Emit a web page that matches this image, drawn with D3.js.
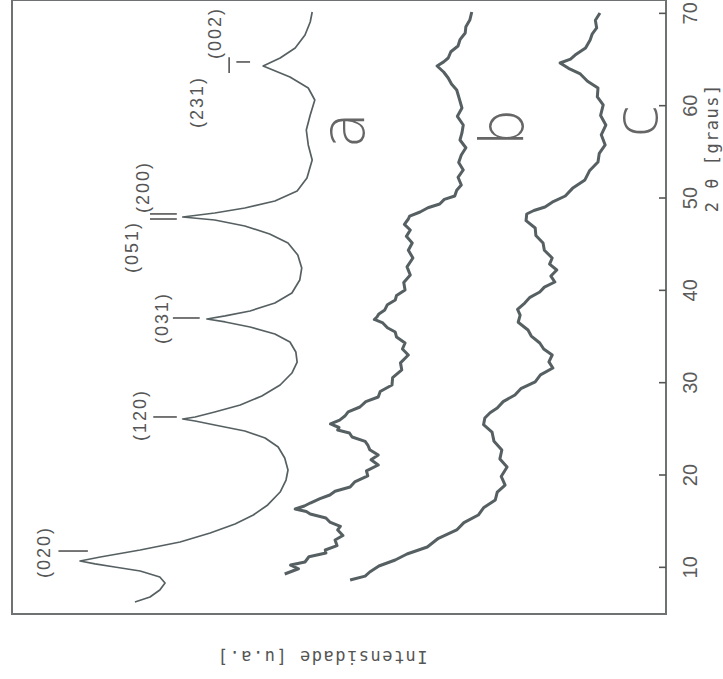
<!DOCTYPE html>
<html lang="pt">
<head>
<meta charset="UTF-8">
<title>DRX</title>
<script src="https://d3js.org/d3.v7.min.js"></script>
<style>
  body { margin: 0; background: #fff; }
  .frame { fill: none; stroke: #6e7273; stroke-width: 2; }
  .curve { fill: none; stroke: #566062; stroke-linejoin: round; }
  .tick-lbl { font-family: "Liberation Sans", Arial, sans-serif; font-size: 20px; fill: #5a5a5a; }
  .peak-lbl { font-family: "Liberation Sans", Arial, sans-serif; font-size: 18px; fill: #555; letter-spacing: 2px; }
  .marker { stroke: #555; stroke-width: 1.6; }
  .axis-title { font-family: "DejaVu Sans Mono", monospace; font-size: 17px; fill: #555; letter-spacing: 1.5px; }
  .sample { font-family: "DejaVu Sans", sans-serif; font-weight: 300; font-size: 60px; fill: #666; }
</style>
</head>
<body>
<div id="chart"></div>
<script>
// 2theta (graus) / intensidade (u.a.)
const curveA = [
  [6.30, 81.2], [6.84, 78.9], [7.60, 77.4], [8.36, 76.6], [9.01, 77.4], [9.66, 80.4],
  [10.09, 84.3], [10.42, 87.3], [10.74, 89.6], [11.17, 86.5], [11.93, 80.4], [12.80, 74.3],
  [13.77, 69.7], [14.75, 65.9], [15.72, 63.1], [16.81, 60.9], [18.21, 59.0], [19.51, 58.1],
  [20.60, 57.8], [21.90, 58.3], [23.09, 59.3], [24.06, 61.3], [24.82, 64.4], [25.47, 69.0],
  [25.90, 72.0], [26.12, 73.9], [26.34, 72.0], [26.88, 69.0], [27.64, 65.1], [28.61, 61.8],
  [29.80, 59.0], [31.10, 57.2], [32.29, 56.4], [33.38, 56.6], [34.46, 57.5], [35.33, 59.8],
  [36.08, 63.6], [36.63, 67.4], [36.95, 70.2], [37.28, 67.4], [37.82, 63.6], [38.68, 59.8],
  [39.77, 57.2], [41.17, 56.0], [42.47, 55.7], [43.88, 56.3], [45.18, 57.8], [46.16, 60.6],
  [47.02, 64.4], [47.67, 69.0], [48.00, 73.9], [48.43, 69.0], [48.97, 64.4], [49.73, 59.8],
  [50.81, 56.4], [52.22, 54.9], [54.17, 54.1], [55.80, 54.7], [57.42, 55.0], [59.05, 54.4],
  [60.67, 53.7], [61.97, 54.7], [63.16, 57.5], [64.35, 61.6], [65.22, 59.0], [66.30, 56.7],
  [67.71, 55.2], [69.12, 54.4], [70.20, 54.1]
];
const curveB = [
  [9.33, 58.3], [9.9, 56.2], [10.3, 57.4], [10.63, 55.2], [11.2, 54.6], [11.6, 52.0], [11.93, 52.1],
  [12.4, 50.3], [13.01, 50.6], [13.5, 49.4], [14.10, 50.2], [14.5, 49.8], [14.96, 51.4], [15.4, 52.0],
  [15.83, 54.4], [16.1, 55.0], [16.37, 56.7], [16.7, 55.3], [17.02, 54.4], [17.5, 52.9], [17.89, 51.4],
  [18.3, 50.6], [18.75, 48.3], [19.3, 47.6], [19.95, 45.6], [20.5, 45.8], [21.14, 44.0], [21.7, 45.1],
  [22.22, 44.0], [22.8, 45.3], [23.30, 45.6], [23.7, 46.0], [24.17, 48.0], [24.6, 48.4], [24.93, 50.2],
  [25.2, 50.0], [25.58, 51.3], [26.0, 49.9], [26.44, 49.1], [26.9, 48.6], [27.42, 46.8], [28.0, 45.9],
  [28.50, 44.0], [29.1, 43.7], [29.80, 41.9], [30.6, 41.8], [31.43, 40.4], [32.2, 40.6], [33.05, 39.4],
  [33.7, 40.3], [34.35, 39.9], [35.0, 41.2], [35.54, 41.4], [36.0, 42.6], [36.52, 43.3], [36.9, 44.6],
  [37.17, 44.2], [37.5, 43.9], [37.93, 43.0], [38.5, 42.6], [39.01, 41.4], [39.5, 41.2], [40.09, 39.9],
  [40.9, 40.1], [41.72, 39.1], [42.6, 39.6], [43.56, 38.7], [44.4, 39.4], [45.18, 38.8], [45.9, 39.7],
  [46.59, 39.1], [47.2, 40.0], [47.78, 39.4], [48.1, 39.2], [48.54, 37.6], [49.0, 36.4], [49.41, 34.6],
  [49.9, 33.9], [50.27, 32.3], [50.9, 32.0], [51.46, 31.3], [52.3, 31.8], [53.09, 31.0], [53.9, 31.7],
  [54.71, 31.3], [55.5, 30.6], [56.34, 31.5], [57.1, 31.2], [57.96, 31.0], [58.9, 31.9], [59.80, 31.2],
  [60.8, 31.6], [61.75, 32.0], [62.4, 32.8], [63.05, 33.3], [63.7, 34.0], [64.35, 35.0], [64.8, 34.0],
  [65.22, 33.3], [65.9, 32.9], [66.52, 31.8], [67.2, 31.5], [67.93, 30.7], [68.6, 30.6], [69.33, 30.0],
  [70.20, 29.7]
];
const curveC = [
  [8.68, 48.3], [9.1, 46.0], [9.55, 45.3], [10.2, 43.9], [10.85, 41.4], [11.5, 39.6], [12.26, 36.5],
  [13.2, 34.8], [14.10, 32.0], [14.9, 30.9], [15.72, 28.7], [16.5, 27.9], [17.35, 26.1], [18.2, 25.8],
  [18.97, 24.6], [19.9, 25.2], [20.92, 24.3], [21.8, 25.4], [22.76, 25.1], [23.7, 26.3], [24.71, 26.6],
  [25.5, 27.9], [26.23, 27.7], [26.8, 26.9], [27.31, 25.8], [28.0, 24.9], [28.72, 23.1], [29.4, 22.2],
  [30.13, 20.0], [30.9, 19.2], [31.64, 17.3], [32.3, 17.9], [33.05, 17.4], [33.7, 18.7], [34.35, 19.3],
  [35.1, 20.6], [35.76, 21.1], [36.6, 22.6], [37.38, 22.3], [38.0, 22.7], [38.68, 21.6], [39.3, 20.8],
  [39.87, 19.3], [40.4, 18.6], [40.96, 17.0], [41.6, 17.6], [42.26, 16.7], [42.9, 17.8], [43.56, 17.4],
  [44.4, 18.6], [45.18, 18.8], [46.0, 19.9], [46.81, 20.0], [47.6, 21.4], [48.32, 21.3], [48.7, 20.2],
  [49.08, 18.5], [49.6, 17.4], [50.27, 15.4], [51.1, 14.3], [52.01, 12.4], [53.0, 11.7], [53.95, 10.4],
  [54.9, 10.2], [55.80, 9.3], [56.9, 9.9], [57.96, 9.2], [59.0, 10.0], [60.13, 9.6], [61.0, 10.5],
  [61.97, 10.4], [62.7, 12.0], [63.49, 13.1], [64.1, 14.9], [64.68, 16.2], [65.1, 14.6], [65.54, 13.9],
  [66.3, 12.3], [67.17, 11.6], [67.8, 11.3], [68.47, 10.6], [69.3, 10.8], [70.09, 10.1]
];
const xTicks = [10, 20, 30, 40, 50, 60, 70];
// marker segments: [2theta1, intensity1, 2theta2, intensity2]
const markers = [
  [11.82, 92.9, 11.82, 88.4], [26.34, 78.4, 26.34, 74.8], [37.06, 75.4, 37.06, 71.3],
  [47.78, 78.9, 47.78, 74.8], [48.33, 78.9, 48.33, 74.8],
  [63.6, 66.8, 65.3, 66.8], [64.79, 65.7, 64.79, 63.6]
];
const peakLabels = [
  ["(020)", 11.72, 95.1], ["(120)", 26.55, 80.4], ["(031)", 37.06, 77.1],
  ["(051)", 44.75, 81.7], ["(200)", 51.25, 80.0], ["(231)", 60.45, 71.7], ["(002)", 67.93, 68.9]
];
const sampleLabels = [["a", 57.4, 49.4], ["b", 57.7, 25.1], ["c", 58.4, 4.6]];

const W = 614, H = 654;
const svg = d3.select("#chart").append("svg").attr("width", 723).attr("height", 679);

// the plot is drawn upright, then turned a quarter turn like the scan
const g = svg.append("g").attr("transform", "translate(12,614) rotate(-90)");

const x = d3.scaleLinear().domain([5, 71.5]).range([0, W]);
const y = d3.scaleLinear().domain([0, 100]).range([H, 0]);

g.append("rect").attr("class", "frame").attr("x", 0).attr("y", 0).attr("width", W).attr("height", H);

const axis = g.append("g")
  .attr("transform", `translate(0,${H})`)
  .call(d3.axisBottom(x).tickValues(xTicks).tickSize(-7).tickPadding(17).tickFormat(d3.format("d")));
axis.select(".domain").remove();
axis.selectAll(".tick line").attr("stroke", "#555").attr("stroke-width", 1.6);
axis.selectAll(".tick text").attr("class", "tick-lbl").attr("fill", null);

const line = d3.line().x(d => x(d[0])).y(d => y(d[1]));
[[curveA, 1.7], [curveB, 3], [curveC, 3]].forEach(([data, w]) => {
  g.append("path").datum(data).attr("class", "curve").attr("stroke-width", w).attr("d", line);
});

g.selectAll(".marker").data(markers).enter().append("line")
  .attr("class", "marker")
  .attr("x1", d => x(d[0])).attr("y1", d => y(d[1]))
  .attr("x2", d => x(d[2])).attr("y2", d => y(d[3]));

g.selectAll(".peak-lbl").data(peakLabels).enter().append("text")
  .attr("class", "peak-lbl")
  .attr("x", d => x(d[1])).attr("y", d => y(d[2]))
  .attr("text-anchor", "middle").attr("dominant-baseline", "central")
  .text(d => d[0]);

g.selectAll(".sample").data(sampleLabels).enter().append("text")
  .attr("class", "sample")
  .attr("x", d => x(d[1])).attr("y", d => y(d[2]))
  .attr("text-anchor", "middle").attr("dominant-baseline", "central")
  .text(d => d[0]);

g.append("text").attr("class", "axis-title")
  .attr("x", x(55.5)).attr("y", H + 46)
  .attr("text-anchor", "middle").attr("dominant-baseline", "central")
  .text("2 θ [graus]");

g.append("text").attr("class", "axis-title")
  .attr("transform", `translate(-43,${y(52.6)}) rotate(-90)`)
  .attr("text-anchor", "middle").attr("dominant-baseline", "central")
  .text("Intensidade [u.a.]");
</script>
</body>
</html>
